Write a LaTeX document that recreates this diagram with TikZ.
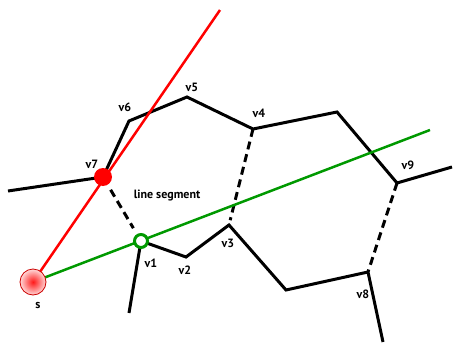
\documentclass[tikz,border=0pt]{standalone}
\usepackage{fontspec}
\setmainfont{PT Sans}
\usetikzlibrary{calc}
\begin{document}
\begin{tikzpicture}[x=1pt,y=-1pt,
  edge/.style={line width=3pt,black,line join=miter},
  dashedge/.style={line width=3pt,black,dash pattern=on 8pt off 5pt},
  lbl/.style={font=\bfseries\fontsize{12}{14}\selectfont,inner sep=0pt}]
\useasboundingbox (0,0) rectangle (456,343);
% coordinates
\coordinate (s) at (33,282);
\coordinate (v7) at (103,177);
\coordinate (v1) at (141,241);
\coordinate (v2) at (186,257);
\coordinate (v3) at (229,225);
\coordinate (v4) at (253,129);
\coordinate (v5) at (187,97);
\coordinate (v6) at (129,121);
\coordinate (v9) at (397,183);
\coordinate (v8) at (368,272);
\coordinate (a) at (8,191);
\coordinate (b) at (337,112);
\coordinate (c) at (452,167);
\coordinate (d) at (286,290);
\coordinate (e) at (383,342);
\coordinate (f) at (129,313);
\coordinate (redend) at (220,10);
\coordinate (greenend) at (430,130);
% black polylines
\draw[edge] (a) -- (v7) -- (v6) -- (v5) -- (v4) -- (b) -- (v9) -- (c);
\draw[edge] (f) -- (v1) -- (v2) -- (v3) -- (d) -- (v8) -- (e);
% dashed
\draw[dashedge] (v4) -- ($(v4)!0.95!(v3)$);
\draw[dashedge] (v9) -- (v8);
\draw[dashedge] ($(v7)!0.2!(v1)$) -- ($(v7)!0.8!(v1)$);
% rays
\draw[line width=2.5pt,red] (s) -- (redend);
\draw[line width=2.5pt,green!60!black] (s) -- (greenend);
% points
\fill[red] (v7) circle (9);
\draw[line width=3pt,green!60!black,fill=white] (v1) circle (6.5);
\shade[inner color=red!90,outer color=red!15] (s) circle (13);
\draw[red!80!black,line width=0.8pt] (s) circle (13);
% labels
\node[lbl] (lv7) at (92,164) {v7};
\node[lbl] (lv6) at (125,107) {v6};
\node[lbl] (lv5) at (192,87) {v5};
\node[lbl] (lv4) at (259,113) {v4};
\node[lbl] (lv9) at (408,165) {v9};
\node[lbl] (lv3) at (228,243) {v3};
\node[lbl] (lv8) at (363,294) {v8};
\node[lbl] (lv2) at (185,270) {v2};
\node[lbl] (lv1) at (151,263) {v1};
\node[lbl] (ls) at (38,305) {s};
\node[lbl] (seg) at (167,196) {line segment};
\end{tikzpicture}
\end{document}
